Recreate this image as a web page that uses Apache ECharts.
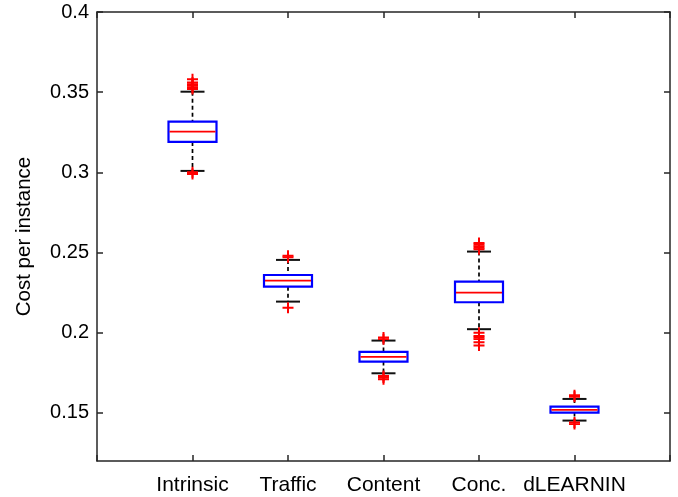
<!DOCTYPE html>
<html>
<head>
<meta charset="utf-8">
<script src="https://cdn.jsdelivr.net/npm/echarts@6/dist/echarts.min.js"></script>
<style>html,body{margin:0;padding:0;background:#fff}#c{width:678px;height:497px}</style>
</head>
<body>
<div id="c"></div>
<script>
var categories = ['', 'Intrinsic', 'Traffic', 'Content', 'Conc.', 'dLEARNIN', ''];
var boxCategoryIndex = [1, 2, 3, 4, 5];
var lowerWhisker = [0.3009, 0.2194, 0.1747, 0.2022, 0.1452];
var q1 = [0.3190, 0.2287, 0.1820, 0.2190, 0.1502];
var median = [0.3254, 0.2325, 0.1849, 0.2250, 0.1519];
var q3 = [0.3316, 0.2360, 0.1880, 0.2319, 0.1539];
var upperWhisker = [0.3503, 0.2454, 0.1951, 0.2506, 0.1587];
var outliersIntrinsic = [0.352, 0.353, 0.354, 0.355, 0.356, 0.358, 0.299, 0.300];
var outliersTraffic = [0.247, 0.248, 0.2155];
var outliersContent = [0.196, 0.197, 0.173, 0.172, 0.171];
var outliersConc = [0.252, 0.253, 0.254, 0.255, 0.256, 0.200, 0.198, 0.197, 0.196, 0.194, 0.192];
var outliersDlearnin = [0.160, 0.161, 0.144, 0.143];
var yTickValues = [0.15, 0.2, 0.25, 0.3, 0.35, 0.4];

var outlierLists = [outliersIntrinsic, outliersTraffic, outliersContent, outliersConc, outliersDlearnin];
var boxData = boxCategoryIndex.map(function (ci, i) {
  return [ci, lowerWhisker[i], q1[i], median[i], q3[i], upperWhisker[i]];
});
var outlierData = [];
outlierLists.forEach(function (list, i) {
  list.forEach(function (v) { outlierData.push([boxCategoryIndex[i], v]); });
});

var FONT = 'Liberation Sans, Arial, Helvetica, sans-serif';
var AX = '#262626';
var chart = echarts.init(document.getElementById('c'), null, {renderer: 'canvas'});
chart.setOption({
  backgroundColor: '#fff',
  animation: false,
  grid: {left: 97, right: 8, top: 12, bottom: 36, containLabel: false},
  xAxis: [{
    type: 'category', data: categories, boundaryGap: false, position: 'bottom',
    axisLine: {show: true, lineStyle: {color: AX, width: 1.5}},
    axisTick: {show: true, inside: true, length: 6, lineStyle: {color: AX, width: 1.5}},
    axisLabel: {show: true, color: '#000', fontFamily: FONT, fontSize: 21, margin: 14, interval: 0},
    splitLine: {show: false}
  }, {
    type: 'category', data: categories, boundaryGap: false, position: 'top',
    axisLine: {show: true, lineStyle: {color: AX, width: 1.5}},
    axisTick: {show: true, inside: true, length: 6, lineStyle: {color: AX, width: 1.5}},
    axisLabel: {show: false},
    splitLine: {show: false}
  }],
  yAxis: [{
    type: 'value', min: 0.12, max: 0.4, position: 'left',
    name: 'Cost per instance', nameLocation: 'middle', nameGap: 62, nameRotate: 90,
    nameTextStyle: {color: '#000', fontFamily: FONT, fontSize: 20.5},
    axisLine: {show: true, lineStyle: {color: AX, width: 1.5}},
    axisTick: {show: true, inside: true, length: 6, customValues: yTickValues, lineStyle: {color: AX, width: 1.5}},
    axisLabel: {show: true, color: '#000', fontFamily: FONT, fontSize: 20, margin: 8, customValues: yTickValues,
      formatter: function (v) { return String(+v.toFixed(2)); }},
    splitLine: {show: false}
  }, {
    type: 'value', min: 0.12, max: 0.4, position: 'right',
    axisLine: {show: true, lineStyle: {color: AX, width: 1.5}},
    axisTick: {show: true, inside: true, length: 6, customValues: yTickValues, lineStyle: {color: AX, width: 1.5}},
    axisLabel: {show: false},
    splitLine: {show: false}
  }],
  series: [{
    type: 'custom',
    xAxisIndex: 0, yAxisIndex: 0,
    encode: {x: 0, y: [1, 2, 3, 4, 5]},
    data: boxData,
    renderItem: function (params, api) {
      var x = api.value(0);
      var lo = api.coord([x, api.value(1)]);
      var b1 = api.coord([x, api.value(2)]);
      var md = api.coord([x, api.value(3)]);
      var b3 = api.coord([x, api.value(4)]);
      var hi = api.coord([x, api.value(5)]);
      var cx = lo[0], bw = 48, cw = 24;
      var dash = {stroke: '#000', lineWidth: 1.7, lineDash: [4, 3]};
      var cap = {stroke: '#111', lineWidth: 2};
      return {type: 'group', children: [
        {type: 'line', shape: {x1: cx, y1: hi[1], x2: cx, y2: b3[1]}, style: dash},
        {type: 'line', shape: {x1: cx, y1: b1[1], x2: cx, y2: lo[1]}, style: dash},
        {type: 'line', shape: {x1: cx - cw / 2, y1: hi[1], x2: cx + cw / 2, y2: hi[1]}, style: cap},
        {type: 'line', shape: {x1: cx - cw / 2, y1: lo[1], x2: cx + cw / 2, y2: lo[1]}, style: cap},
        {type: 'rect', shape: {x: cx - bw / 2, y: b3[1], width: bw, height: b1[1] - b3[1]},
          style: {fill: '#fff', stroke: '#0000ff', lineWidth: 2.2}},
        {type: 'line', shape: {x1: cx - bw / 2 + 1, y1: md[1], x2: cx + bw / 2 - 1, y2: md[1]},
          style: {stroke: '#ff0000', lineWidth: 1.7}}
      ]};
    },
    z: 2
  }, {
    type: 'scatter',
    xAxisIndex: 0, yAxisIndex: 0,
    data: outlierData,
    symbol: 'path://M0,4.1h10v1.8h-10z M4.1,0h1.8v10h-1.8z',
    symbolSize: 11,
    itemStyle: {color: '#ff0000', opacity: 1},
    z: 3
  }]
});
</script>
</body>
</html>
